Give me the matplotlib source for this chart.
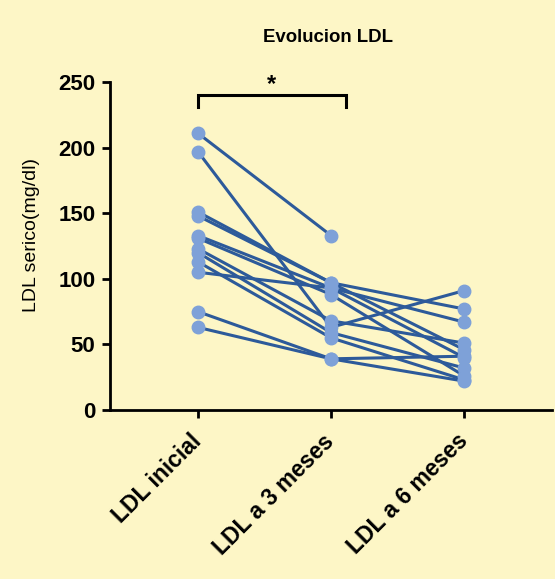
import numpy as np
import matplotlib
matplotlib.use("Agg")
import matplotlib.pyplot as plt

plt.rcParams['font.family'] = ['Liberation Sans', 'DejaVu Sans']

categories = ["LDL inicial", "LDL a 3 meses", "LDL a 6 meses"]
nan = np.nan
ldl_inicial = [211, 197, 151, 148, 133, 131, 123, 120, 113, 105, 75, 63]
ldl_3m = [133, 63, 97, 97, 93, 88, 68, 59, 55, 93, 39, 39]
ldl_6m = [nan, 91, 77, 46, 67, 26, 51, 32, 23, 40, 41, 22]
yticks = [0, 50, 100, 150, 200, 250]

bg = "#FDF6C6"
line_c = "#2D5A9A"
mark_c = "#7EA1D8"

fig = plt.figure(figsize=(5.55, 5.79), dpi=100, facecolor=bg)
ax = fig.add_axes([110/555, 1-410/579, 442/555, 328/579], facecolor=bg)

x = np.arange(len(categories))
for a, b, c in zip(ldl_inicial, ldl_3m, ldl_6m):
    ax.plot(x, [a, b, c], '-', color=line_c, lw=2.2, zorder=2)
    ax.plot(x, [a, b, c], 'o', color=mark_c, ms=9, mec=mark_c, zorder=3)

ax.set_xlim(-0.66, 2.66)
ax.set_ylim(0, 250)
ax.set_yticks(yticks)
ax.set_yticklabels([str(t) for t in yticks], fontsize=16, fontweight='bold')
ax.set_xticks(x)
ax.set_xticklabels(categories, fontsize=16.5, fontweight='bold', rotation=45,
                   ha='right', va='center', rotation_mode='anchor')
for s in ['top', 'right']:
    ax.spines[s].set_visible(False)
for s in ['left', 'bottom']:
    ax.spines[s].set_linewidth(2)
ax.tick_params(axis='both', width=2, length=6)
ax.tick_params(axis='y', pad=4.5)
ax.tick_params(axis='x', pad=14)

ax.set_ylabel("LDL serico(mg/dl)", fontsize=14)
ax.yaxis.set_label_coords(-0.158, 0.535)

# significance bracket
ax.plot([0, 0, 1.11, 1.11], [231, 240, 240, 231], color='black', lw=2.2,
        clip_on=False, solid_joinstyle='miter')
ax.text(0.555, 248, "*", ha='center', va='center', fontsize=17,
        fontweight='bold', clip_on=False)

fig.text(328/555, 1-37/579, "Evolucion LDL", ha='center', va='center',
         fontsize=13.4, fontweight='bold')

fig.savefig("out.png", dpi=100, facecolor=bg)
